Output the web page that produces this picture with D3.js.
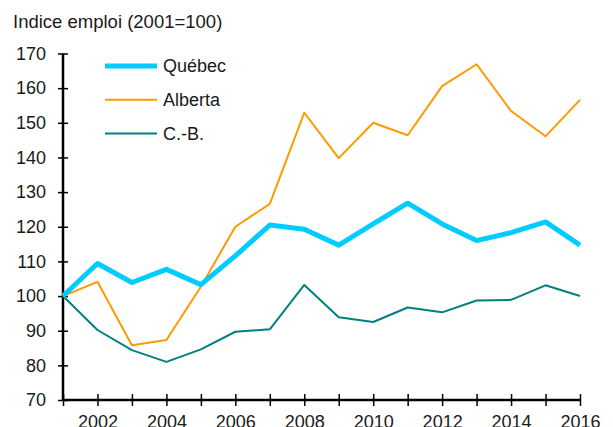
<!DOCTYPE html>
<html>
<head>
<meta charset="utf-8">
<script src="https://cdn.jsdelivr.net/npm/d3@7"></script>
<style>
  body { margin: 0; background: #fff; }
  text { font-family: "Liberation Sans", Arial, sans-serif; fill: #1a1a1a; }
</style>
</head>
<body>
<svg width="613" height="427"></svg>
<script>
const years = d3.range(2001, 2017);
const quebec = [100, 109.4, 103.9, 107.7, 103.3, 111.6, 120.5, 119.3, 114.7, 120.8, 126.8, 120.8, 116.0, 118.3, 121.4, 114.7];
const alberta = [100, 104.1, 85.8, 87.3, 102.7, 120.0, 126.6, 152.9, 139.8, 150.0, 146.4, 160.6, 166.9, 153.4, 146.1, 156.6];
const cb = [100, 90.2, 84.4, 81.0, 84.6, 89.7, 90.4, 103.2, 93.9, 92.5, 96.7, 95.3, 98.7, 98.9, 103.1, 100.0];
const yTicks = [70, 80, 90, 100, 110, 120, 130, 140, 150, 160, 170];
const xLabels = [2002, 2004, 2006, 2008, 2010, 2012, 2014, 2016];

const series = [
  { name: "Québec", values: quebec, color: "#00ccff", width: 5 },
  { name: "Alberta", values: alberta, color: "#ff9900", width: 2 },
  { name: "C.-B.", values: cb, color: "#008080", width: 2 },
];

const svg = d3.select("svg"),
  margin = { top: 53.5, right: 33, bottom: 27, left: 63 },
  width = +svg.attr("width") - margin.left - margin.right,
  height = +svg.attr("height") - margin.top - margin.bottom;

const x = d3.scaleLinear().domain([2001, 2016]).range([0, width]);
const y = d3.scaleLinear().domain([70, 170]).range([height, 0]);

const g = svg.append("g").attr("transform", `translate(${margin.left},${margin.top})`);

svg.append("text")
  .attr("x", 13)
  .attr("y", 28)
  .attr("font-size", 18.5)
  .text("Indice emploi (2001=100)");

// y axis
const yAxis = g.append("g").call(d3.axisLeft(y).tickValues(yTicks).tickSize(5).tickPadding(12));
yAxis.selectAll(".tick line").attr("x1", 5).attr("x2", -5);

// x axis
const xAxis = g.append("g")
  .attr("transform", `translate(0,${height})`)
  .call(d3.axisBottom(x).tickValues(years).tickSize(5).tickFormat((d) => (xLabels.includes(d) ? d : "")));
xAxis.selectAll(".tick line").attr("y1", -6).attr("y2", 6);
xAxis.selectAll(".tick text").attr("dy", "1.12em");

g.selectAll(".domain").attr("stroke", "#000").attr("stroke-width", 2.5);
g.selectAll(".tick line").attr("stroke", "#000").attr("stroke-width", 1.5);
g.selectAll(".tick text").attr("font-size", 18).attr("fill", "#1a1a1a")
  .attr("font-family", "'Liberation Sans', Arial, sans-serif");
yAxis.select(".domain").attr("d", `M0,${height}V0`);
xAxis.select(".domain").attr("d", `M0,0H${width}`);

const line = d3.line()
  .x((d, i) => x(years[i]))
  .y((d) => y(d));

// order: C.-B., Alberta, then Québec on top
g.selectAll(".series")
  .data(series.slice().reverse())
  .enter()
  .append("path")
  .attr("fill", "none")
  .attr("stroke", (d) => d.color)
  .attr("stroke-width", (d) => d.width)
  .attr("stroke-linejoin", "round")
  .attr("d", (d) => line(d.values));

// legend
const leg = svg.append("g").selectAll("g")
  .data(series)
  .enter()
  .append("g")
  .attr("transform", (d, i) => `translate(105,${66 + i * 33.7})`);
leg.append("line")
  .attr("x1", 0).attr("x2", 52)
  .attr("stroke", (d) => d.color)
  .attr("stroke-width", (d) => d.width);
leg.append("text")
  .attr("x", 58)
  .attr("dy", "0.35em")
  .attr("font-size", 18)
  .text((d) => d.name);
</script>
</body>
</html>
